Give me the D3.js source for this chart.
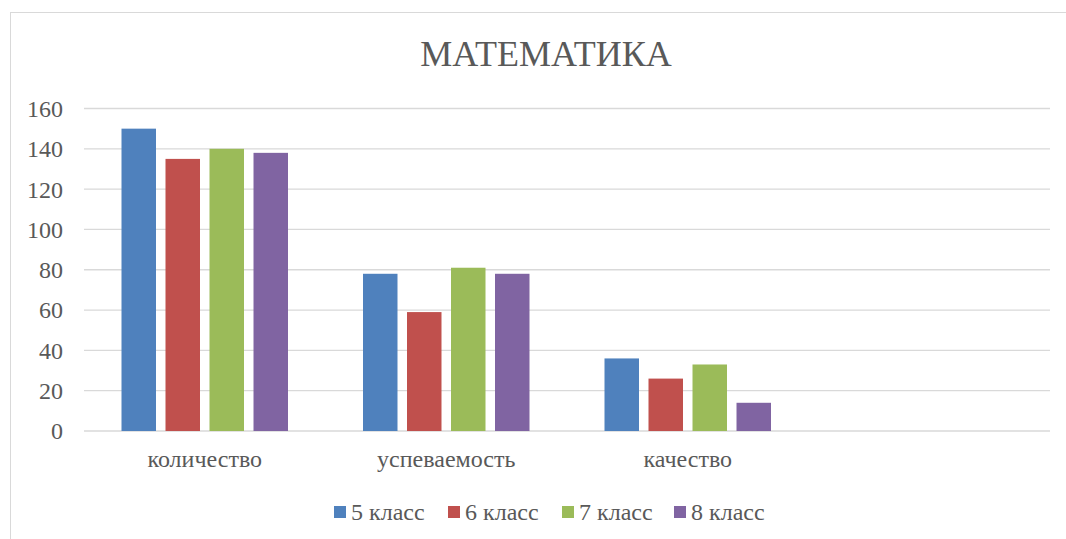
<!DOCTYPE html>
<html>
<head>
<meta charset="utf-8">
<script src="https://cdn.jsdelivr.net/npm/d3@7"></script>
<style>
  body { margin: 0; background: #fff; }
  svg { display: block; }
  svg text { font-family: "Liberation Serif", "Times New Roman", serif; }
</style>
</head>
<body>
<svg id="chart" width="1066" height="539"></svg>
<script>
// data
var categories = ["количество", "успеваемость", "качество", ""];
var seriesNames = ["5 класс", "6 класс", "7 класс", "8 класс"];
var grade5 = [150, 78, 36];
var grade6 = [135, 59, 26];
var grade7 = [140, 81, 33];
var grade8 = [138, 78, 14];
var yTicks = [0, 20, 40, 60, 80, 100, 120, 140, 160];

var colors = ["#4F81BD", "#C0504D", "#9BBB59", "#8064A2"];
var series = [grade5, grade6, grade7, grade8];

var svg = d3.select("#chart");
var W = 1066, H = 539;
var plot = {left: 84, right: 1050, top: 108.5, bottom: 431};
var textColor = "#595959";
var groupW = 166.5;

// outer chart frame
svg.append("rect")
   .attr("x", 10.5).attr("y", 12.5)
   .attr("width", W).attr("height", H)
   .attr("fill", "none")
   .attr("stroke", "#D9D9D9")
   .attr("stroke-width", 1);

// title
svg.append("text")
   .attr("x", 546)
   .attr("y", 66)
   .attr("text-anchor", "middle")
   .attr("font-size", 36)
   .attr("fill", textColor)
   .text("МАТЕМАТИКА");

// scales
var x0 = d3.scaleBand().domain(d3.range(categories.length))
    .range([plot.left, plot.right]);
var x1 = d3.scaleBand().domain(d3.range(series.length))
    .range([0, groupW]).paddingInner(0.216).paddingOuter(0);
var y = d3.scaleLinear().domain([0, 160]).range([plot.bottom, plot.top]);

// gridlines
svg.append("g").selectAll("line")
   .data(yTicks).enter().append("line")
   .attr("x1", plot.left).attr("x2", plot.right)
   .attr("y1", function(d) { return y(d); })
   .attr("y2", function(d) { return y(d); })
   .attr("stroke", "#D9D9D9")
   .attr("stroke-width", 1.3);

// y axis labels
var yAxis = svg.append("g")
   .attr("font-family", null)
   .attr("transform", "translate(" + (plot.left - 21) + ",0)")
   .call(d3.axisLeft(y).tickValues(yTicks).tickSize(0).tickPadding(0));
yAxis.attr("font-family", null).attr("font-size", null);
yAxis.select(".domain").remove();
yAxis.selectAll("text")
   .attr("font-size", 24)
   .attr("fill", textColor)
   .attr("dy", "0.33em");

// bars
var groups = svg.append("g").selectAll("g")
   .data(series).enter().append("g")
   .attr("fill", function(d, i) { return colors[i]; });

groups.each(function(vals, si) {
    d3.select(this).selectAll("rect")
      .data(vals).enter().append("rect")
      .attr("x", function(d, ci) {
          return x0(ci) + (x0.bandwidth() - groupW) / 2 + x1(si);
      })
      .attr("y", function(d) { return y(d); })
      .attr("width", x1.bandwidth())
      .attr("height", function(d) { return y(0) - y(d); });
});

// category labels
var xAxis = svg.append("g")
   .attr("transform", "translate(0," + (plot.bottom + 36) + ")")
   .call(d3.axisBottom(x0).tickFormat(function(i) { return categories[i]; }).tickSize(0).tickPadding(0));
xAxis.attr("font-family", null).attr("font-size", null);
xAxis.select(".domain").remove();
xAxis.selectAll("text")
   .attr("font-size", 24)
   .attr("fill", textColor)
   .attr("dy", 0);

// legend
var legendX = [334, 448, 562, 674];
var legend = svg.append("g").selectAll("g")
   .data(seriesNames).enter().append("g")
   .attr("transform", function(d, i) { return "translate(" + legendX[i] + ",506)"; });
legend.append("rect")
   .attr("width", 12).attr("height", 12)
   .attr("fill", function(d, i) { return colors[i]; });
legend.append("text")
   .attr("x", 17).attr("y", 14)
   .attr("font-size", 24)
   .attr("fill", textColor)
   .text(function(d) { return d; });
</script>
</body>
</html>
